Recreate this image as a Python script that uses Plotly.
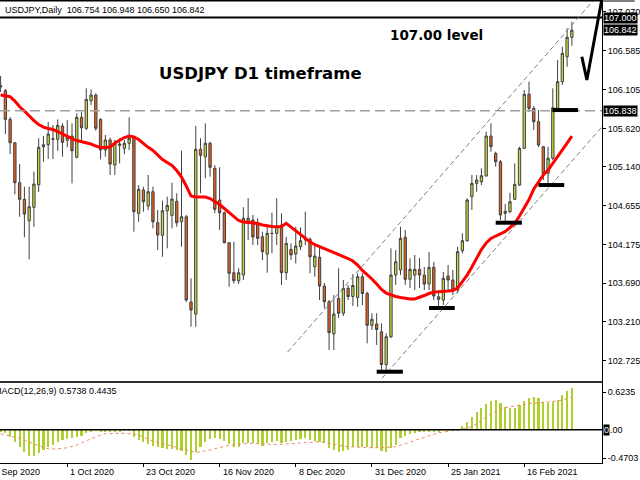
import plotly.graph_objects as go

# ---------------- data ----------------
first_bar = 2
opens = [106.135,106.089,105.732,105.441,104.943,104.736,104.470,104.637,104.918,105.391,
105.416,105.491,105.483,105.649,105.471,105.524,105.259,105.757,105.620,105.964,
106.035,105.732,105.350,105.475,105.163,105.425,105.371,105.434,105.496,104.562,
104.852,104.653,104.831,104.445,104.288,104.594,104.537,104.711,104.457,104.519,
103.457,103.308,105.359,105.267,105.434,105.122,104.727,104.569,104.196,103.822,
103.722,103.793,104.500,104.478,104.425,104.270,104.055,104.313,104.313,104.416,
103.822,104.113,104.055,104.146,104.232,104.238,103.897,104.014,103.656,103.461,
103.059,103.503,103.317,103.628,103.526,103.513,103.772,103.563,103.167,103.183,
103.087,102.679,103.025,103.793,103.856,104.263,103.740,103.793,103.864,103.793,
103.681,103.889,103.523,103.482,103.781,103.731,103.607,104.096,104.221,104.769,
104.935,104.955,105.026,105.524,105.309,105.204,104.562,104.582,104.736,104.914,
105.371,106.044,105.869,105.703,105.391,105.060,105.247,105.869,106.201,106.512,
106.754]
highs = [106.272,106.110,105.761,105.450,105.176,104.893,104.893,105.080,105.496,105.524,
105.699,105.661,105.732,105.683,105.724,105.683,105.807,105.827,106.118,106.106,
106.056,105.745,105.537,105.508,105.475,105.496,105.475,105.757,105.516,104.914,
104.893,105.039,104.893,104.603,104.719,104.769,104.943,104.811,105.341,104.541,
103.752,105.649,105.496,105.683,105.453,105.163,105.135,104.582,104.196,104.208,
103.877,104.637,104.752,104.541,104.500,104.333,104.404,104.569,104.749,104.562,
104.270,104.188,104.395,104.387,104.582,104.263,104.188,104.167,103.694,103.482,
103.544,103.877,103.731,103.669,103.806,103.815,103.815,103.585,103.317,103.317,
103.192,103.067,104.126,104.105,104.395,104.354,104.001,104.043,104.005,103.893,
104.080,103.955,103.607,103.831,103.918,103.856,104.146,104.313,104.749,105.039,
105.039,105.122,105.578,105.683,105.329,105.226,104.678,104.818,105.184,105.391,
106.097,106.201,105.898,105.848,105.400,105.391,106.118,106.471,106.636,106.866,
106.948]
lows = [106.072,105.549,105.300,104.798,104.519,104.263,103.989,104.395,104.827,105.204,
105.238,105.238,105.341,105.267,105.384,104.935,105.247,105.475,105.599,105.910,
105.590,105.234,105.267,105.039,105.039,105.184,105.297,105.350,104.333,104.457,
104.582,104.603,104.375,104.105,104.021,104.126,104.375,104.395,104.146,103.457,
103.150,103.150,104.811,104.998,105.018,104.562,104.354,104.188,103.648,103.690,
103.681,103.731,104.229,104.167,104.167,103.980,103.822,104.064,104.167,103.669,
103.731,103.980,103.939,104.105,104.167,103.815,103.772,103.482,103.379,102.859,
102.859,103.258,103.283,103.482,103.407,103.399,103.420,102.943,103.109,102.922,
102.604,102.610,103.009,103.669,103.793,103.669,103.632,103.607,103.632,103.607,
103.607,103.482,103.383,103.420,103.607,103.544,103.569,104.064,104.208,104.603,
104.831,104.914,105.026,105.329,105.142,104.478,104.453,104.562,104.727,104.902,
105.363,105.823,105.599,105.387,104.977,104.927,105.226,105.848,106.160,106.387,
106.650]
closes = [106.150,105.732,105.441,104.943,104.736,104.553,104.644,104.927,105.384,105.416,
105.549,105.483,105.658,105.446,105.508,105.341,105.757,105.628,105.981,106.035,
105.620,105.350,105.475,105.176,105.434,105.409,105.434,105.496,104.582,104.861,
104.706,104.831,104.457,104.292,104.594,104.661,104.740,104.445,104.519,103.482,
103.358,105.359,105.284,105.434,105.135,104.612,104.569,104.196,103.815,103.722,
103.822,104.500,104.441,104.267,104.250,104.084,104.313,104.310,104.404,103.822,
104.188,104.043,104.155,104.221,104.238,104.021,104.030,103.656,103.461,103.075,
103.308,103.317,103.628,103.526,103.663,103.772,103.563,103.167,103.242,103.115,
102.679,103.025,103.793,103.959,104.250,103.740,103.864,103.864,103.793,103.681,
103.889,103.532,103.491,103.752,103.731,103.607,104.084,104.221,104.727,104.935,
104.977,105.030,105.524,105.391,105.204,104.541,104.587,104.706,104.923,105.371,
106.044,105.869,105.703,105.412,105.060,105.247,105.877,106.201,106.554,106.754,
106.842]
ma_line = [106.035,106.029,106.014,105.960,105.889,105.836,105.773,105.717,105.668,105.636,
105.618,105.605,105.580,105.549,105.524,105.493,105.468,105.456,105.441,105.425,
105.400,105.381,105.381,105.387,105.437,105.475,105.506,105.524,105.512,105.481,
105.431,105.384,105.344,105.288,105.232,105.194,105.157,105.095,105.014,104.902,
104.777,104.765,104.765,104.765,104.746,104.709,104.671,104.622,104.572,104.522,
104.472,104.453,104.447,104.445,104.435,104.416,104.404,104.397,104.395,104.397,
104.437,104.391,104.335,104.292,104.248,104.204,104.173,104.148,104.123,104.098,
104.074,104.055,104.030,103.999,103.968,103.918,103.850,103.800,103.744,103.681,
103.613,103.569,103.544,103.526,103.513,103.501,103.495,103.495,103.513,103.538,
103.563,103.582,103.585,103.585,103.594,103.600,103.632,103.712,103.793,103.893,
104.005,104.111,104.192,104.248,104.279,104.304,104.335,104.385,104.435,104.528,
104.634,104.734,104.864,104.952,105.039,105.101,105.182,105.263,105.350,105.437,
105.524]
macd_hist = [-0.044,-0.061,-0.116,-0.199,-0.282,-0.376,-0.431,-0.431,-0.392,-0.337,
-0.282,-0.254,-0.199,-0.171,-0.160,-0.144,-0.116,-0.100,-0.061,-0.033,
-0.022,-0.044,-0.044,-0.044,-0.033,-0.033,-0.022,-0.017,-0.116,-0.171,
-0.199,-0.243,-0.265,-0.287,-0.310,-0.321,-0.321,-0.337,-0.354,-0.420,
-0.503,-0.365,-0.282,-0.199,-0.155,-0.144,-0.155,-0.188,-0.243,-0.282,
-0.282,-0.227,-0.227,-0.227,-0.243,-0.265,-0.227,-0.199,-0.188,-0.227,
-0.199,-0.188,-0.171,-0.155,-0.133,-0.171,-0.188,-0.199,-0.227,-0.310,
-0.337,-0.365,-0.354,-0.337,-0.282,-0.282,-0.282,-0.282,-0.299,-0.310,
-0.354,-0.365,-0.310,-0.254,-0.133,-0.100,-0.077,-0.061,-0.044,-0.033,
-0.033,-0.044,-0.033,-0.022,-0.022,-0.011,-0.006,0.066,0.133,0.216,
0.287,0.354,0.420,0.475,0.492,0.437,0.381,0.365,0.354,0.409,
0.481,0.531,0.536,0.520,0.464,0.437,0.464,0.492,0.575,0.641,
0.697]
macd_signal = [-0.066,-0.083,-0.100,-0.122,-0.144,-0.177,-0.210,-0.238,-0.265,-0.293,
-0.315,-0.321,-0.321,-0.310,-0.299,-0.282,-0.254,-0.216,-0.182,-0.149,
-0.116,-0.088,-0.066,-0.061,-0.061,-0.061,-0.061,-0.061,-0.072,-0.088,
-0.122,-0.155,-0.188,-0.210,-0.232,-0.254,-0.276,-0.299,-0.321,-0.343,
-0.365,-0.376,-0.365,-0.354,-0.337,-0.315,-0.293,-0.276,-0.260,-0.249,
-0.238,-0.232,-0.227,-0.227,-0.232,-0.243,-0.249,-0.254,-0.249,-0.243,
-0.238,-0.232,-0.227,-0.221,-0.216,-0.205,-0.199,-0.199,-0.210,-0.227,
-0.243,-0.254,-0.271,-0.282,-0.287,-0.293,-0.299,-0.299,-0.299,-0.299,
-0.299,-0.293,-0.287,-0.282,-0.260,-0.232,-0.205,-0.177,-0.149,-0.122,
-0.094,-0.066,-0.050,-0.039,-0.022,-0.011,0.000,0.011,0.028,0.050,
0.100,0.155,0.210,0.260,0.299,0.337,0.365,0.381,0.398,0.409,
0.420,0.431,0.437,0.442,0.448,0.453,0.464,0.475,0.492,0.514,
0.542]
bars = list(range(first_bar, first_bar + len(closes)))

date_label_bars = [0, 16, 32, 48, 64, 80, 96, 112]
date_labels = ["9 Sep 2020", "1 Oct 2020", "23 Oct 2020", "16 Nov 2020",
               "8 Dec 2020", "31 Dec 2020", "25 Jan 2021", "16 Feb 2021"]
price_ticks = [107.070, 106.585, 106.105, 105.620, 105.140, 104.655,
               104.175, 103.690, 103.210, 102.725]
macd_ticks = [0.6235, -0.4703]
level_107 = 107.000
level_resist = 105.838
last_close = 106.842

# channel lines: [start bar, start price, end bar, end price]
channel_upper = [62.3, 102.835, 126.4, 107.206]
channel_lower = [82.1, 102.507, 128.33, 105.640]
# pivot markers: (bar from, bar to, price)
pivot_from = [81.0, 92.0, 106.0, 115.0, 117.9]
pivot_to = [86.5, 97.4, 111.5, 120.4, 123.3]
pivot_price = [102.589, 103.383, 104.445, 104.914, 105.848]
# hand-drawn check mark
check_bars = [124.1, 125.15, 128.27]
check_prices = [106.512, 106.222, 107.218]

x_range = [1.875, 128.33]
y_range = [102.461, 107.206]
macd_range = [-0.552, 0.774]

BULL = "#c2da3a"
BEAR = "#ea5f1a"
FONT = "Liberation Sans"


def to_paper(bar):
    return (bar - x_range[0]) / (x_range[1] - x_range[0])


fig = go.Figure()
fig.add_trace(go.Candlestick(
    x=bars, open=opens, high=highs, low=lows, close=closes,
    increasing=dict(fillcolor=BULL, line=dict(color="#404040", width=1)),
    decreasing=dict(fillcolor=BEAR, line=dict(color="#404040", width=1)),
    whiskerwidth=0, xaxis="x", yaxis="y", showlegend=False, hoverinfo="skip"))
fig.add_trace(go.Scatter(x=bars, y=ma_line, mode="lines",
    line=dict(color="#ff0000", width=3), xaxis="x", yaxis="y", showlegend=False))
fig.add_trace(go.Bar(x=bars, y=macd_hist, width=0.45, marker=dict(color="#b0d030", line=dict(width=0)),
    xaxis="x2", yaxis="y2", showlegend=False))
fig.add_trace(go.Scatter(x=bars, y=macd_signal, mode="lines",
    line=dict(color="#f08a6a", width=1, dash="dot"), xaxis="x2", yaxis="y2", showlegend=False))

shapes = []
shapes.append(dict(type="line", xref="x", yref="y", x0=x_range[0], x1=x_range[1],
                   y0=level_107, y1=level_107, line=dict(color="black", width=2)))
shapes.append(dict(type="line", xref="x", yref="y", x0=x_range[0], x1=x_range[1],
                   y0=level_resist, y1=level_resist, line=dict(color="#a0a0a0", width=1.5, dash="10px,5px")))
for ch in (channel_upper, channel_lower):
    shapes.append(dict(type="line", xref="x", yref="y", x0=ch[0], y0=ch[1], x1=ch[2], y1=ch[3],
                       line=dict(color="#808080", width=1, dash="5px,3px")))
for a, b, p in zip(pivot_from, pivot_to, pivot_price):
    shapes.append(dict(type="line", xref="x", yref="y", x0=a, x1=b, y0=p, y1=p,
                       line=dict(color="black", width=4)))
path = "M " + " L ".join(f"{b},{p}" for b, p in zip(check_bars, check_prices))
shapes.append(dict(type="path", xref="x", yref="y", path=path, line=dict(color="black", width=3)))
shapes.append(dict(type="line", xref="x2", yref="y2", x0=x_range[0], x1=x_range[1], y0=0, y1=0,
                   line=dict(color="black", width=1.5)))
# outer frame lines (top edge across the price scale, thicker panel separator)
shapes.append(dict(type="line", xref="paper", yref="paper", x0=0, x1=640/607, y0=1, y1=1,
                   line=dict(color="black", width=1)))
shapes.append(dict(type="line", xref="paper", yref="paper", x0=0, x1=1, y0=0.1753, y1=0.1753,
                   line=dict(color="#303030", width=2)))

ann = []
ann.append(dict(text="USDJPY,Daily  106.754 106.948 106.650 106.842", xref="paper", yref="paper",
                x=0, y=1, xanchor="left", yanchor="top", xshift=3, yshift=-2, showarrow=False,
                font=dict(family=FONT, size=9, color="black")))
ann.append(dict(text="USDJPY D1 timeframe", xref="paper", yref="paper", x=158/607, y=0.842,
                xanchor="left", yanchor="middle", showarrow=False,
                font=dict(family="DejaVu Sans", size=16.5, color="black", weight="bold")))
ann.append(dict(text="107.00 level", xref="paper", yref="paper", x=391/607, y=0.9264,
                xanchor="left", yanchor="middle", showarrow=False,
                font=dict(family="DejaVu Sans", size=13.5, color="black", weight="bold")))
for val in (level_107, last_close, level_resist):
    ann.append(dict(text=f"{val:.3f}", xref="paper", yref="y", x=1, y=val, xanchor="left",
                    yanchor="middle", xshift=1, showarrow=False, bgcolor="black", borderpad=0,
                    font=dict(family=FONT, size=9, color="white")))
ann.append(dict(text="MACD(12,26,9) 0.5738 0.4435", xref="paper", yref="paper", x=0, y=0.1732,
                xanchor="left", yanchor="top", xshift=-8, yshift=-1, showarrow=False,
                font=dict(family=FONT, size=9, color="black")))
ann.append(dict(text="0", xref="paper", yref="y2", x=1, y=0, xanchor="left", yanchor="middle",
                xshift=1, showarrow=False, bgcolor="black", borderpad=0,
                font=dict(family=FONT, size=9, color="white")))
ann.append(dict(text=".00", xref="paper", yref="y2", x=1, y=0, xanchor="left", yanchor="middle",
                xshift=6, showarrow=False, font=dict(family=FONT, size=9, color="black")))
for b, t in zip(date_label_bars, date_labels):
    ann.append(dict(text=t, xref="paper", yref="paper", x=to_paper(b), y=0, xanchor="left",
                    yanchor="top", xshift=1, yshift=-2, showarrow=False,
                    font=dict(family=FONT, size=9, color="black")))

fig.update_layout(
    width=640, height=480, margin=dict(l=0, r=33, t=1, b=17),
    paper_bgcolor="white", plot_bgcolor="white", bargap=0,
    shapes=shapes, annotations=ann, showlegend=False,
    xaxis=dict(domain=[0, 1], range=x_range, anchor="y", showticklabels=False, ticks="",
               showgrid=False, zeroline=False, showline=True, mirror=True, linecolor="black",
               linewidth=1, rangeslider=dict(visible=False), fixedrange=True),
    yaxis=dict(domain=[0.1753, 1], range=y_range, side="right", anchor="x",
               tickvals=price_ticks, ticktext=[f"{v:.3f}" for v in price_ticks],
               ticks="outside", ticklen=3, tickcolor="black", showgrid=False, zeroline=False,
               showline=True, linecolor="black", linewidth=1,
               tickfont=dict(family=FONT, size=9, color="black")),
    xaxis2=dict(domain=[0, 1], range=x_range, anchor="y2", tickvals=date_label_bars,
                showticklabels=False, ticks="outside", ticklen=3, tickcolor="black",
                showgrid=False, zeroline=False, showline=True, mirror=True,
                linecolor="black", linewidth=1),
    yaxis2=dict(domain=[0, 0.1732], range=macd_range, side="right", anchor="x2",
                tickvals=macd_ticks, ticktext=[f"{v:.4f}" for v in macd_ticks],
                ticks="outside", ticklen=3, tickcolor="black", showgrid=False, zeroline=False,
                showline=True, linecolor="black", linewidth=1,
                tickfont=dict(family=FONT, size=9, color="black")),
)

fig.write_html("out.html", config={"displayModeBar": False},
               post_script="document.body.style.margin='0';document.body.style.overflow='hidden';")
